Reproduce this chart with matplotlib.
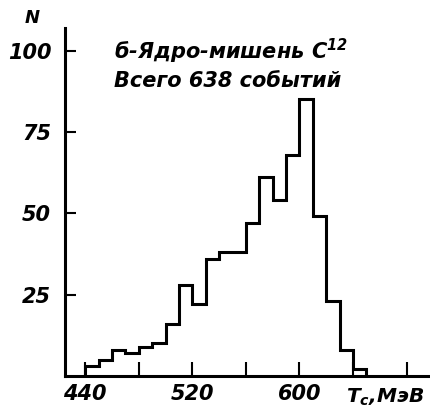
import numpy as np
import matplotlib
matplotlib.use("Agg")
import matplotlib.pyplot as plt

# bin edges in MeV (10 MeV bins)
edges = np.arange(440, 660, 10)
counts = [3, 5, 8, 7, 9, 10, 16, 28, 22, 36, 38, 38, 47, 61, 54, 68, 85, 49, 23, 8, 2]

xticks = [440, 480, 520, 560, 600, 640, 680]
xlabels = ["440", "", "520", "", "600", "", ""]
yticks = [25, 50, 75, 100]
ylabels = ["25", "50", "75", "100"]

plt.rcParams["mathtext.fontset"] = "custom"
plt.rcParams["mathtext.it"] = "DejaVu Sans:bold:italic"
plt.rcParams["mathtext.rm"] = "DejaVu Sans:bold:italic"
plt.rcParams["mathtext.bf"] = "DejaVu Sans:bold:italic"

font = dict(family="DejaVu Sans", weight="bold", style="italic")

fig = plt.figure(figsize=(4.31, 4.09), dpi=100)
ax = fig.add_axes([0.151, 0.081, 0.842, 0.851])

ax.stairs(counts, edges, color="black", linewidth=2.2, baseline=0)

ax.set_xlim(425, 696)
ax.set_ylim(0, 107)
for s in ["top", "right"]:
    ax.spines[s].set_visible(False)
for s in ["left", "bottom"]:
    ax.spines[s].set_linewidth(2.2)

ax.set_xticks(xticks)
ax.set_xticklabels(xlabels, fontsize=15, **font)
ax.set_yticks(yticks)
ax.set_yticklabels(ylabels, fontsize=15, **font)
ax.tick_params(axis="x", direction="in", length=10, width=1.5, pad=6)
ax.tick_params(axis="y", direction="in", length=8, width=1.5, pad=10)

fig.text(32 / 431, 1 - 18 / 409, "N", fontsize=13, ha="center", va="center", **font)
ax.text(664, -6.5, "$T_c$,МэВ", fontsize=14.5, ha="center", va="center", **font)
ax.text(0.135, 0.975, "б-Ядро-мишень C$^{12}$", transform=ax.transAxes,
        fontsize=15, ha="left", va="top", **font)
ax.text(0.135, 0.875, "Всего 638 событий", transform=ax.transAxes,
        fontsize=15, ha="left", va="top", **font)

fig.savefig("out.png", dpi=100)
